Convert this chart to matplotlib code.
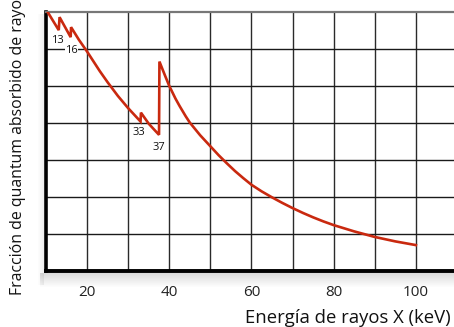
import matplotlib
matplotlib.use("Agg")
import matplotlib.pyplot as plt
from matplotlib.patches import Rectangle

# Data (energy in keV, absorbed fraction in grid units 0-7)
energy = [10.4, 13.1, 13.3, 16.0, 16.1, 18.0, 20.0, 23.1, 25.0, 27.5, 30.0, 33.0, 33.1,
          35.0, 37.5, 37.6, 39.0, 40.0, 41.5, 42.5, 44.0, 45.0, 47.5, 50.0, 52.0, 54.0,
          56.0, 58.0, 60.0, 62.5, 65.0, 67.5, 70.0, 72.5, 75.0, 77.5, 80.0, 85.0, 90.0,
          95.0, 100.0]
fraction = [7.0, 6.51, 6.86, 6.32, 6.59, 6.25, 5.93, 5.40, 5.10, 4.73, 4.40, 4.04, 4.28,
            3.98, 3.68, 5.66, 5.27, 5.00, 4.66, 4.46, 4.18, 4.01, 3.67, 3.37, 3.13, 2.91,
            2.70, 2.51, 2.33, 2.15, 1.99, 1.84, 1.70, 1.57, 1.45, 1.34, 1.24, 1.07, 0.92,
            0.80, 0.70]
edge_labels = ["13", "16", "33", "37"]
edge_label_x = [12.7, 16.2, 32.5, 37.4]
edge_label_y = [6.22, 5.95, 3.73, 3.35]
xtick_vals = [20, 40, 60, 80, 100]

W, H = 454, 327
fig = plt.figure(figsize=(W / 100, H / 100), dpi=100)
plt.rcParams['font.family'] = ['Open Sans', 'DejaVu Sans']

# drop shadow under/left of the frame
for i in range(14):
    a = 0.14 * (1 - i / 14)
    fig.patches.append(Rectangle(((40) / W, (H - 273 - i - 1) / H), (W - 40) / W, 1 / H,
                                 transform=fig.transFigure, color='black', alpha=a, lw=0, zorder=0))
for i in range(6):
    a = 0.06 * (1 - i / 6)
    fig.patches.append(Rectangle(((44 - i - 1) / W, (H - 285) / H), 1 / W, (285 - 14) / H,
                                 transform=fig.transFigure, color='black', alpha=a, lw=0, zorder=0))

left_px, right_px, top_px, bot_px = 46, 46 + 110 * 4.11, 12, 271
ax = fig.add_axes([left_px / W, (H - bot_px) / H, (right_px - left_px) / W, (bot_px - top_px) / H])
ax.set_xlim(10, 120)
ax.set_ylim(0, 7)
ax.set_facecolor('white')

for xv in range(20, 120, 10):
    ax.axvline(xv, color='#2a2a2a', lw=1.0, zorder=1)
for yv in range(1, 7):
    ax.axhline(yv, color='#1a1a1a', lw=1.0, zorder=1)

ax.plot(energy, fraction, color='#c9290f', lw=1.9, zorder=3, solid_joinstyle='miter')

for lab, lx, ly in zip(edge_labels, edge_label_x, edge_label_y):
    ax.text(lx, ly, lab, ha='center', va='center', fontsize=8, color='#111111', zorder=4,
            bbox=dict(facecolor='white', edgecolor='none', pad=0.3))

ax.spines['left'].set_linewidth(2.6)
ax.spines['left'].set_color('black')
ax.spines['bottom'].set_linewidth(2.8)
ax.spines['bottom'].set_color('black')
ax.spines['top'].set_linewidth(1.6)
ax.spines['top'].set_color('#777777')
ax.spines['right'].set_visible(False)

ax.set_yticks([])
ax.set_xticks(xtick_vals)
ax.set_xticklabels([str(v) for v in xtick_vals], fontsize=11, color='#222222')
ax.tick_params(axis='x', length=0, pad=10)

fig.text(245 / W, 1 - 318 / H, "Energía de rayos X (keV)", ha='left', va='center',
         fontsize=13.3, color='#111111')
fig.text(18 / W, 1 - 295 / H, "Fracción de quantum absorbido de rayos X", rotation=90,
         ha='center', va='bottom', fontsize=11.4, color='#111111')

fig.savefig("out.png", dpi=100)
